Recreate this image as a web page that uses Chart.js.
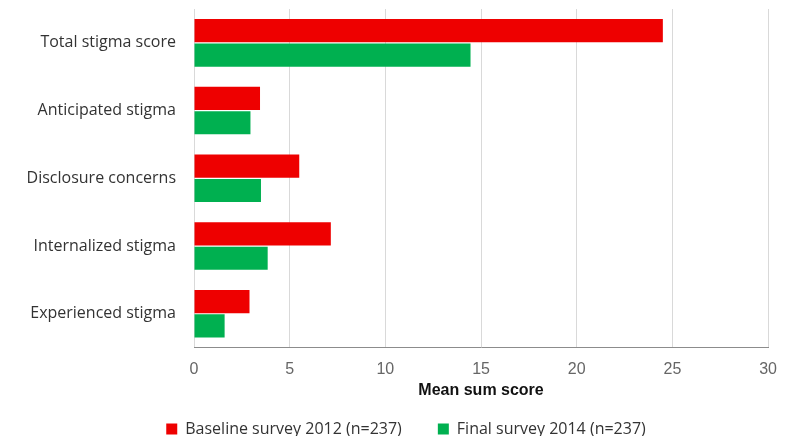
<!DOCTYPE html>
<html>
<head>
<meta charset="utf-8">
<script src="https://cdn.jsdelivr.net/npm/chart.js@4/dist/chart.umd.min.js"></script>
<style>
  html, body { margin: 0; padding: 0; background: #fff; }
  #wrap { width: 789px; height: 436px; }
</style>
</head>
<body>
<div id="wrap"><canvas id="myChart"></canvas></div>
<script>
// data
var categories = ["Total stigma score", "Anticipated stigma", "Disclosure concerns", "Internalized stigma", "Experienced stigma"];
var baseline2012 = [24.5, 3.45, 5.5, 7.15, 2.9];
var final2014 = [14.45, 2.95, 3.5, 3.85, 1.6];
var xTicks = [0, 5, 10, 15, 20, 25, 30];

// legend in the original sits a bit right of the canvas middle
var legendOffset = {
  id: "legendOffset",
  beforeDraw: function(chart) {
    chart.legend.left = 38;
  }
};

var ctx = document.getElementById("myChart").getContext("2d");
var myChart = new Chart(ctx, {
  type: "bar",
  data: {
    labels: categories,
    datasets: [
      {
        label: "Baseline survey 2012 (n=237)",
        data: baseline2012,
        backgroundColor: "#ee0000",
        categoryPercentage: 0.72,
        barPercentage: 0.95
      },
      {
        label: "Final survey 2014 (n=237)",
        data: final2014,
        backgroundColor: "#00b050",
        categoryPercentage: 0.72,
        barPercentage: 0.95
      }
    ]
  },
  options: {
    indexAxis: "y",
    responsive: true,
    maintainAspectRatio: false,
    animation: false,
    layout: { padding: { top: 9, right: 15, left: 0, bottom: -11 } },
    scales: {
      x: {
        min: 0,
        max: 30,
        afterBuildTicks: function(axis) {
          axis.ticks = xTicks.map(function(v) { return { value: v }; });
        },
        grid: { color: "#d9d9d9", drawTicks: false },
        border: { color: "#8c8c8c" },
        ticks: {
          color: "#666",
          padding: 12,
          font: { family: "Liberation Sans", size: 16 }
        },
        title: {
          display: true,
          text: "Mean sum score",
          color: "#111",
          padding: { top: -10, bottom: -15 },
          font: { family: "Liberation Sans", size: 16, weight: "bold" }
        }
      },
      y: {
        afterFit: function(axis) {
          axis.width = 194;
          axis.paddingTop = 0;
          axis.paddingBottom = 0;
        },
        grid: { display: false },
        border: { display: false },
        ticks: {
          color: "#333",
          padding: 10,
          font: { family: "Open Sans", size: 16 }
        }
      }
    },
    plugins: {
      legend: {
        position: "bottom",
        labels: {
          boxWidth: 11,
          boxHeight: 11,
          padding: 36,
          color: "#333",
          font: { family: "Open Sans", size: 16 }
        }
      },
      tooltip: { enabled: false }
    }
  },
  plugins: [legendOffset]
});
</script>
</body>
</html>
